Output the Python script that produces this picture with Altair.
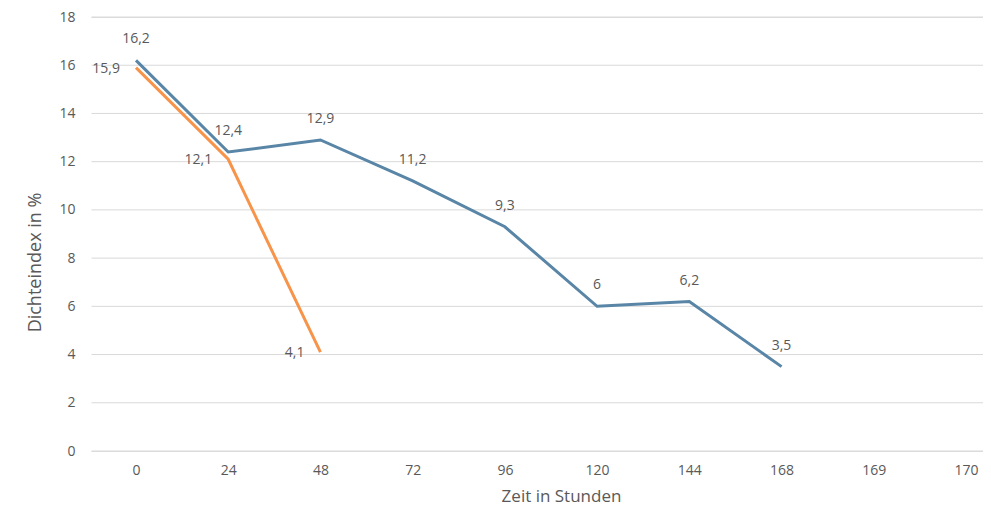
import altair as alt
import pandas as pd

categories = ["0", "24", "48", "72", "96", "120", "144", "168", "169", "170"]
blue_hours = ["0", "24", "48", "72", "96", "120", "144", "168"]
blue_values = [16.2, 12.4, 12.9, 11.2, 9.3, 6.0, 6.2, 3.5]
orange_hours = ["0", "24", "48"]
orange_values = [15.9, 12.1, 4.1]
y_ticks = [0, 2, 4, 6, 8, 10, 12, 14, 16, 18]

BLUE = "#5985A6"
ORANGE = "#F7944A"
GREY = "#595959"
FONT = "Open Sans"


def fmt(v):
    s = ("%g" % v).replace(".", ",")
    return s


blue = pd.DataFrame({"h": blue_hours, "v": blue_values, "lab": [fmt(v) for v in blue_values]})
orange = pd.DataFrame({"h": orange_hours, "v": orange_values, "lab": [fmt(v) for v in orange_values]})
grid = pd.DataFrame({"v": y_ticks})
one = pd.DataFrame({"k": [0]})

x = alt.X(
    "h:N",
    sort=categories,
    scale=alt.Scale(domain=categories, type="point", padding=0.3416, align=0.73),
    axis=alt.Axis(
        title="Zeit in Stunden",
        labelAngle=0,
        labelFontSize=14,
        labelColor=GREY,
        labelFont=FONT,
        labelPadding=12,
        ticks=False,
        domain=False,
        grid=False,
        titleFontSize=17,
        titleFont=FONT,
        titleColor=GREY,
        titleFontWeight="normal",
        titleX=471,
        titleY=45,
        titleBaseline="middle",
    ),
)
y_scale = alt.Scale(domain=[0, 18])
y = alt.Y(
    "v:Q",
    scale=y_scale,
    axis=alt.Axis(
        title="Dichteindex in %",
        values=y_ticks,
        labelFontSize=14,
        labelColor=GREY,
        labelFont=FONT,
        labelPadding=15,
        ticks=False,
        domain=False,
        grid=False,
        titleFontSize=18,
        titleFont=FONT,
        titleColor=GREY,
        titleFontWeight="normal",
        titleX=-55,
        titleY=245,
        titleAngle=270,
        titleBaseline="middle",
    ),
)

# white mask over the stray left edge line
mask = alt.Chart(one).mark_rule(color="white", strokeWidth=3).encode(
    x=alt.value(0), y=alt.value(-2), y2=alt.value(436)
)
grid_rules = alt.Chart(grid).mark_rule(color="#D9D9D9", strokeWidth=1).encode(
    y=y, x=alt.value(1.5), x2=alt.value(893)
)
blue_line = alt.Chart(blue).mark_line(color=BLUE, strokeWidth=3).encode(x=x, y=y)
orange_line = alt.Chart(orange).mark_line(color=ORANGE, strokeWidth=3).encode(x=x, y=y)

blue_text = alt.Chart(blue).mark_text(
    dy=-21, fontSize=14, font=FONT, color=GREY, align="center", baseline="middle"
).encode(x=x, y=y, text="lab:N")
orange_text = alt.Chart(orange).mark_text(
    dx=-16, dy=1, fontSize=14, font=FONT, color=GREY, align="right", baseline="middle"
).encode(x=x, y=y, text="lab:N")

chart = (
    alt.layer(mask, grid_rules, orange_line, blue_line, blue_text, orange_text)
    .properties(
        width=893,
        height=434,
        autosize=alt.AutoSizeParams(type="none"),
        padding={"left": 82, "top": 9, "right": 0, "bottom": 55},
    )
    .configure_view(strokeWidth=0, stroke="transparent")
    .configure(background="white")
)

chart.save("out.html", embed_options={"renderer": "svg", "actions": False})
